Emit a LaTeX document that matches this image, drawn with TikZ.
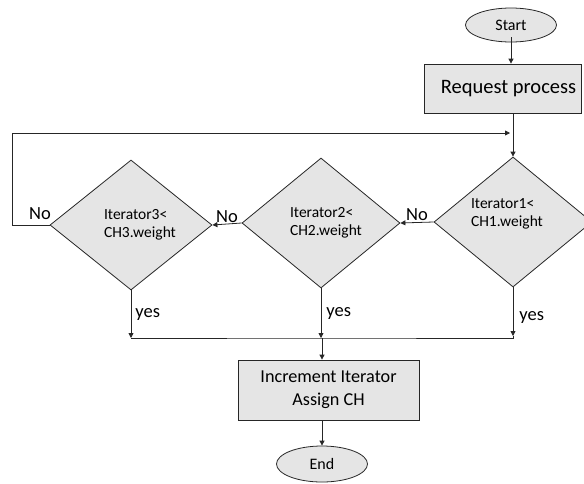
\documentclass[tikz,border=0pt]{standalone}
\usepackage{fontspec}
\setmainfont{Carlito}
\usetikzlibrary{shapes.geometric,arrows.meta}

\tikzset{
  flow/.style={draw=black!85, line width=0.8pt, fill=black!10},
  terminal/.style={flow, ellipse, minimum width=91pt, minimum height=34pt, inner sep=0pt, font=\fontsize{16}{18}\selectfont},
  process/.style={flow, rectangle, inner sep=0pt},
  decision/.style={flow, diamond, inner sep=0pt},
  dtext/.style={align=left, inner sep=0pt, font=\fontsize{15.5}{18.5}\selectfont},
  link/.style={draw=black!85, line width=0.8pt},
  arrow/.style={link, -{Triangle[width=5pt,length=5pt]}},
  answer/.style={inner sep=0pt, font=\fontsize{18.5}{20}\selectfont}
}

\begin{document}
\begin{tikzpicture}[x=1pt, y=-1pt]
  \useasboundingbox (0,0) rectangle (584,483);
  \clip (0,0) rectangle (584,483);

  % start, request and the three weight tests
  \node[terminal] (start) at (511,25) {Start};
  \node[process, minimum width=157pt, minimum height=49pt,
        font=\fontsize{20.5}{22}\selectfont] (req) at (502.5,88.5) {\hspace*{12pt}Request process};

  \node[decision, minimum width=158pt, minimum height=130pt] (d1) at (513,222) {};
  \node[decision, minimum width=158pt, minimum height=130pt] (d2) at (321,223) {};
  \node[decision, minimum width=162pt, minimum height=130pt] (d3) at (131,225) {};

  \node[dtext] (t1) at (507,214) {Iterator1<\\CH1.weight};
  \node[dtext] (t2) at (326,223) {Iterator2<\\CH2.weight};
  \node[dtext] (t3) at (140,225) {Iterator3<\\CH3.weight};

  % increment step and end
  \node[process, minimum width=181pt, minimum height=60pt, align=center,
        font=\fontsize{18.2}{23}\selectfont] (inc) at (328.5,390) {Increment Iterator\\Assign CH};
  \node[terminal, minimum height=36pt] (end) at (322,464) {End};

  % helper points for the loop and the merge line
  \coordinate (loopL)  at (12,133);
  \coordinate (loopR)  at (510,133);
  \coordinate (loopB)  at (12,225);
  \coordinate (y3)     at (131,338);
  \coordinate (y2)     at (321,338);
  \coordinate (y1)     at (513,336);
  \coordinate (merge)  at (322,338);
  \coordinate (into)   at (513,133);
  \coordinate (out)    at (511,37);

  % main flow
  \draw[arrow] (out) -- (out |- req.north);
  \draw[link]  (req.south -| d1.north) -- (into);
  \draw[arrow] (into) -- (d1.north);

  % "No" branches
  \draw[arrow] (d1.west) -- node[answer, above, yshift=1pt] (no1) {No} (d2.east);
  \draw[arrow] (d2.west) -- node[answer, above, yshift=1pt] (no2) {No} (d3.east);
  \draw[link]  (d3.west) -- (loopB) -- (loopL);
  \draw[arrow] (loopL) -- (loopR);
  \node[answer] (no3) at (40,214) {No};

  % "yes" branches
  \draw[arrow] (d3.south) -- node[answer, right, xshift=4pt] (yes3) {yes} (y3);
  \draw[arrow] (d2.south) -- node[answer, right, xshift=5pt] (yes2) {yes} (y2);
  \draw[arrow] (d1.south) -- node[answer, right, xshift=6pt, yshift=-6pt] (yes1) {yes} (y1);
  \draw[link]  (y3) -- (y2) -- (y1 |- y2) -- (y1);
  \draw[arrow] (merge) -- (merge |- inc.north);

  \draw[arrow] (inc.south -| end.north) -- (end.north);
\end{tikzpicture}
\end{document}
